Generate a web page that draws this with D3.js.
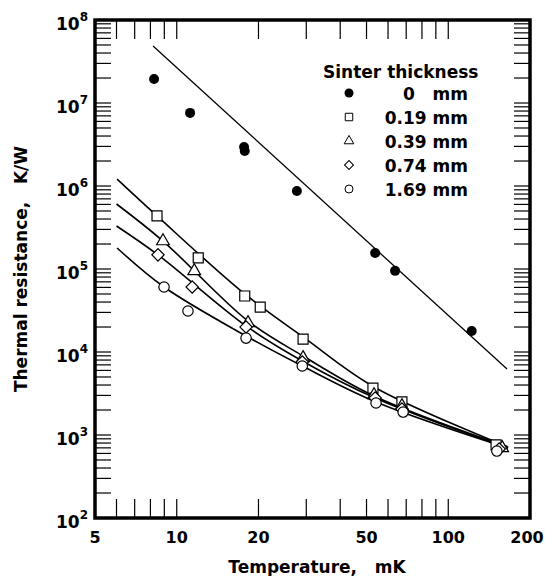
<!doctype html>
<html>
<head>
<meta charset="utf-8">
<title>Thermal resistance vs temperature</title>
<script src="https://d3js.org/d3.v7.min.js"></script>
<style>
  body { margin: 0; background: #fff; }
  text { font-family: "DejaVu Sans", sans-serif; font-weight: bold; fill: #000; }
</style>
</head>
<body>
<div id="chart"></div>
<script>
// data: [temperature mK, thermal resistance K/W]
var dots0   = [[8.25, 1.95e7], [11.2, 7.6e6], [17.7, 2.95e6], [17.8, 2.64e6], [27.7, 8.7e5],
               [53.8, 1.56e5], [63.7, 9.5e4], [122, 1.79e4]];
var sq019   = [[8.46, 4.36e5], [12.0, 1.36e5], [17.8, 4.73e4], [20.3, 3.48e4], [29.2, 1.43e4],
               [52.8, 3.68e3], [67.5, 2.5e3], [150, 759]];
var tri039  = [[8.9, 2.17e5], [11.6, 9.46e4], [18.3, 2.24e4], [29.2, 8.47e3], [53.3, 3.03e3],
               [67.5, 2.24e3], [158, 697]];
var dia074  = [[8.53, 1.48e5], [11.4, 6.07e4], [18.0, 2.0e4], [29.0, 7.58e3], [53.8, 2.79e3],
               [67.5, 2.06e3], [154, 678]];
var cir169  = [[8.98, 6.07e4], [11.0, 3.12e4], [18.0, 1.47e4], [29.0, 6.78e3], [54.2, 2.43e3],
               [68.2, 1.89e3], [151, 641]];

// fitted curves, points
var fit0    = [[8.18, 4.86e7], [164.6, 6.24e3]];
var fit019  = [[6.03, 1.21e6], [8.46, 4.36e5], [17.8, 5.0e4], [29.2, 1.52e4], [53.3, 3.79e3], [166, 717]];
var fit039  = [[6.0, 6.07e5], [8.9, 2.17e5], [18.3, 2.36e4], [29.2, 8.95e3], [53.3, 2.95e3], [166, 717]];
var fit074  = [[6.0, 3.3e5], [8.53, 1.48e5], [18.0, 2.06e4], [29.0, 7.8e3], [53.8, 2.79e3], [166, 697]];
var fit169  = [[6.03, 1.79e5], [8.98, 6.07e4], [18.0, 1.56e4], [29.0, 6.78e3], [54.2, 2.5e3], [166, 697]];

var xLabels = [5, 10, 20, 50, 100, 200];
var xMinor  = [6, 7, 8, 9, 10, 20, 30, 40, 50, 60, 70, 80, 90, 100];
var yDecades = [2, 3, 4, 5, 6, 7, 8];
var legendNames = ["0   mm", "0.19 mm", "0.39 mm", "0.74 mm", "1.69 mm"];

var W = 546, H = 576;
var pL = 95, pR = 530, pT = 20, pB = 518;

var x = d3.scaleLog().domain([5, 200]).range([pL, pR]);
var y = d3.scaleLog().domain([1e2, 1e8]).range([pB, pT]);

var svg = d3.select("#chart").append("svg")
  .attr("width", W).attr("height", H);

// minor y ticks 1..9 per decade
var yMinor = [];
for (var e = 2; e < 8; e++) {
  for (var m = 1; m < 10; m++) yMinor.push(m * Math.pow(10, e));
}

var ticks = svg.append("g").attr("stroke", "#000").attr("stroke-width", 1.2);
ticks.selectAll(".xb").data(xMinor).enter().append("line")
  .attr("x1", d => x(d)).attr("x2", d => x(d))
  .attr("y1", pB).attr("y2", pB - 19);
ticks.selectAll(".xt").data(xMinor).enter().append("line")
  .attr("x1", d => x(d)).attr("x2", d => x(d))
  .attr("y1", pT).attr("y2", pT + 19);
ticks.selectAll(".yl").data(yMinor).enter().append("line")
  .attr("x1", pL).attr("x2", pL + 16)
  .attr("y1", d => y(d)).attr("y2", d => y(d));
ticks.selectAll(".yr").data(yMinor).enter().append("line")
  .attr("x1", pR).attr("x2", pR - 16)
  .attr("y1", d => y(d)).attr("y2", d => y(d));

// frame
svg.append("rect")
  .attr("x", pL).attr("y", pT)
  .attr("width", pR - pL).attr("height", pB - pT)
  .attr("fill", "none").attr("stroke", "#000").attr("stroke-width", 3.5);

// x tick labels
svg.selectAll(".xl").data(xLabels).enter().append("text")
  .attr("x", d => x(d) - (d == 200 ? 3 : 0)).attr("y", pB + 25)
  .attr("text-anchor", "middle").style("font-size", "16px")
  .text(d => d);

// y tick labels 10^n
var yl = svg.selectAll(".ylab").data(yDecades).enter().append("text")
  .attr("x", pL - 7).attr("y", d => y(Math.pow(10, d)) + 10)
  .attr("text-anchor", "end").style("font-size", "17px");
yl.append("tspan").text("10");
yl.append("tspan").attr("dy", -9).style("font-size", "12px").text(d => d);

// axis titles
svg.append("text")
  .attr("x", 317).attr("y", 573)
  .attr("text-anchor", "middle").style("font-size", "17px")
  .style("white-space", "pre")
  .text("Temperature,   mK");
svg.append("text")
  .attr("transform", "translate(27," + ((pT + pB) / 2) + ") rotate(-90)")
  .attr("text-anchor", "middle").style("font-size", "17px")
  .style("white-space", "pre")
  .text("Thermal resistance,   K/W");

// fitted lines
var line = d3.line().x(d => x(d[0])).y(d => y(d[1])).curve(d3.curveCatmullRom.alpha(0.5));
var fits = svg.append("g").attr("fill", "none").attr("stroke", "#000");
fits.append("path").datum(fit0).attr("d", line).attr("stroke-width", 1.3);
[fit019, fit039, fit074, fit169].forEach(function (f) {
  fits.append("path").datum(f).attr("d", line).attr("stroke-width", 1.6);
});

// symbols
var symSquare = d3.symbol().type(d3.symbolSquare).size(100)();
var symTri = d3.symbol().type(d3.symbolTriangle).size(70)();
var symDia = d3.symbol().type(d3.symbolSquare).size(76)();
function drawSym(data, path, rot) {
  svg.append("g").selectAll("path").data(data).enter().append("path")
    .attr("d", path)
    .attr("transform", d => "translate(" + x(d[0]) + "," + y(d[1]) + ")" + (rot ? " rotate(45)" : ""))
    .attr("fill", "#fff").attr("stroke", "#000").attr("stroke-width", 1.2);
}
drawSym(sq019, symSquare, false);
drawSym(tri039, symTri, false);
drawSym(dia074, symDia, true);
svg.append("g").selectAll("circle").data(cir169).enter().append("circle")
  .attr("cx", d => x(d[0])).attr("cy", d => y(d[1])).attr("r", 5.2)
  .attr("fill", "#fff").attr("stroke", "#000").attr("stroke-width", 1.2);
svg.append("g").selectAll("circle").data(dots0).enter().append("circle")
  .attr("cx", d => x(d[0])).attr("cy", d => y(d[1])).attr("r", 5)
  .attr("fill", "#000");

// legend
var lg = svg.append("g");
lg.append("text").attr("x", 323).attr("y", 78).style("font-size", "17px").text("Sinter thickness");
var rowY = d => 100 + d * 24;
lg.selectAll(".lt").data(legendNames).enter().append("text")
  .attr("x", 468).attr("y", (d, i) => rowY(i))
  .attr("text-anchor", "end").style("font-size", "17px")
  .style("white-space", "pre").text(d => d);
var sx = 349;
lg.append("circle").attr("cx", sx).attr("cy", rowY(0) - 7).attr("r", 4.5).attr("fill", "#000");
var small = [
  d3.symbol().type(d3.symbolSquare).size(56)(),
  d3.symbol().type(d3.symbolTriangle).size(40)(),
  d3.symbol().type(d3.symbolSquare).size(40)()
];
lg.append("path").attr("d", small[0]).attr("transform", "translate(" + sx + "," + (rowY(1) - 7) + ")")
  .attr("fill", "#fff").attr("stroke", "#000").attr("stroke-width", 1);
lg.append("path").attr("d", small[1]).attr("transform", "translate(" + sx + "," + (rowY(2) - 7) + ")")
  .attr("fill", "#fff").attr("stroke", "#000").attr("stroke-width", 1);
lg.append("path").attr("d", small[2]).attr("transform", "translate(" + sx + "," + (rowY(3) - 7) + ") rotate(45)")
  .attr("fill", "#fff").attr("stroke", "#000").attr("stroke-width", 1);
lg.append("circle").attr("cx", sx).attr("cy", rowY(4) - 7).attr("r", 4)
  .attr("fill", "#fff").attr("stroke", "#000").attr("stroke-width", 1);
</script>
</body>
</html>
